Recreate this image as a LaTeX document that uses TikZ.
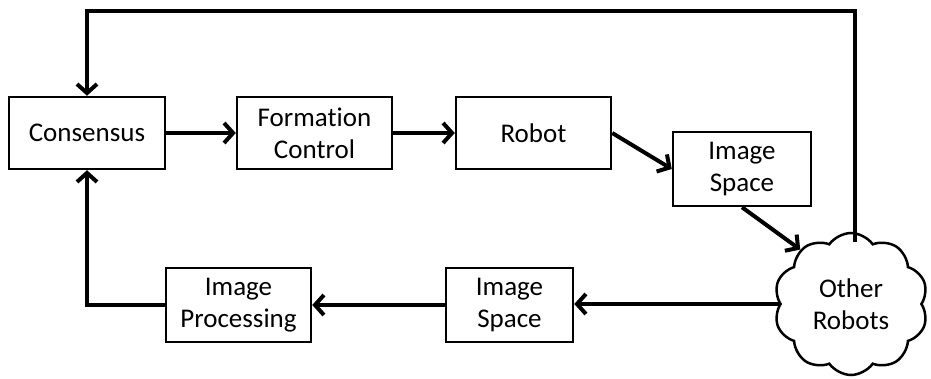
\documentclass[tikz,border=0pt]{standalone}
\usepackage{fontspec}
\setmainfont[Ligatures={NoCommon}]{Carlito}
\usetikzlibrary{shapes.symbols,arrows.meta}
\begin{document}
\begin{tikzpicture}[x=1pt,y=-1pt,
  txt/.style={align=center, font=\fontsize{27}{32}\selectfont},
  box/.style={txt, draw, line width=2.5pt, inner sep=0pt, minimum height=72pt},
  conn/.style={line width=4pt, -{Straight Barb[length=9pt,width=20pt]}}]
\useasboundingbox (0,0) rectangle (931,379);
\node[box, minimum width=156pt] (cons) at (87,133) {Consensus};
\node[box, minimum width=155pt] (form) at (314.5,133) {Formation\\Control};
\node[box, minimum width=155pt] (robot) at (533.5,133) {Robot};
\node[box, minimum width=138pt, minimum height=74pt] (is1) at (742,169) {Image\\Space};
\node[box, minimum width=145pt, minimum height=74pt] (ip) at (238.5,305) {Image\\Processing};
\node[box, minimum width=127pt, minimum height=74pt] (is2) at (509.5,305) {Image\\Space};
\node[txt, draw, line width=2.5pt, cloud, cloud puffs=10, cloud puff arc=110, aspect=1.1,
  minimum width=154pt, minimum height=142pt, inner sep=0pt] (cloud) at (851,304) {Other\\Robots};
\coordinate (ctop) at (855,242);
\coordinate (tl) at (87,11);
\draw[conn] (cons.east) -- (form.west);
\draw[conn] (form.east) -- (robot.west);
\draw[conn] (robot.east) -- (is1.west);
\draw[conn] (is1.south) -- (cloud.133);
\draw[conn] (cloud.west) -- (cloud.west -| is2.east);
\draw[conn] (is2.west) -- (ip.east);
\draw[conn] (ip.west) -| (cons.south);
\draw[conn] (ctop) |- (tl) -- (cons.north);
\end{tikzpicture}
\end{document}
